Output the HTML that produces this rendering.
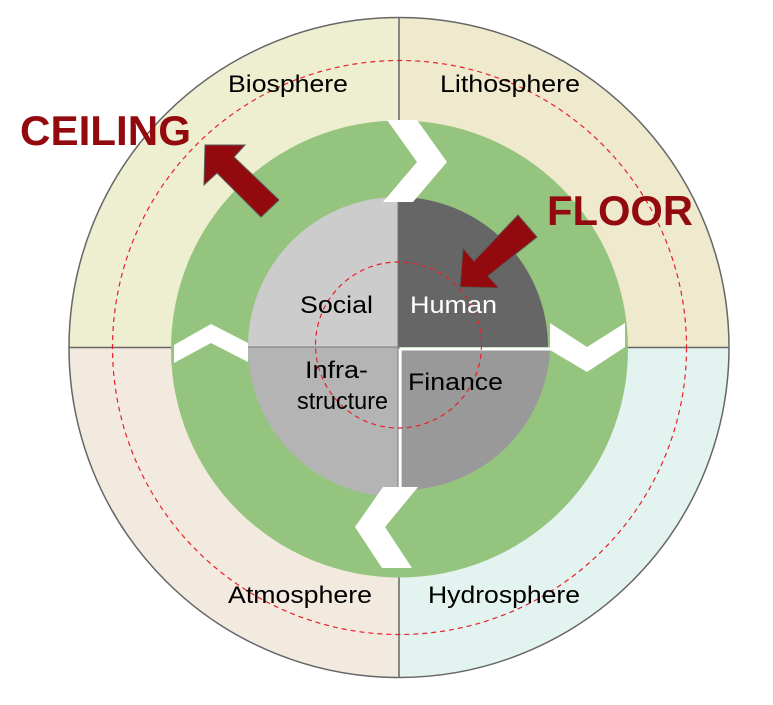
<!DOCTYPE html>
<html><head><meta charset="utf-8"><style>
html,body{margin:0;padding:0;background:#fff;}
svg{display:block;}
text{font-family:"Liberation Sans",Arial,sans-serif;}
</style></head><body>
<svg width="773" height="705" viewBox="0 0 773 705" xmlns="http://www.w3.org/2000/svg">
<path d="M399,347.5 L399,17.5 A330,330 0 0 0 69,347.5 Z" fill="#eeeed1"/>
<path d="M399,347.5 L729,347.5 A330,330 0 0 0 399,17.5 Z" fill="#efeacd"/>
<path d="M399,347.5 L69,347.5 A330,330 0 0 0 399,677.5 Z" fill="#f3eadf"/>
<path d="M399,347.5 L399,677.5 A330,330 0 0 0 729,347.5 Z" fill="#e3f4f0"/>
<line x1="399" y1="17.5" x2="399" y2="677.5" stroke="#666" stroke-width="1.5"/>
<line x1="69" y1="347.5" x2="729" y2="347.5" stroke="#666" stroke-width="1.5"/>
<circle cx="399" cy="347.5" r="330" fill="none" stroke="#666" stroke-width="1.5"/>
<circle cx="399.5" cy="347.5" r="287" fill="none" stroke="#e8202a" stroke-width="1.2" stroke-dasharray="5,4"/>
<circle cx="399.5" cy="349" r="228.5" fill="#95c47f"/>
<path d="M398,347 L398,197 A150,150 0 0 0 248,347 Z" fill="#cccccc"/>
<path d="M398,347 L548,347 A150,150 0 0 0 398,197 Z" fill="#666666"/>
<path d="M398,347 L248,347 A150,150 0 0 0 398,497 Z" fill="#b4b4b4"/>
<path d="M402,350.5 L402,490 A148,148 0 0 0 550,350.5 Z" fill="#999999"/>
<line x1="398" y1="199" x2="398" y2="490" stroke="#777" stroke-width="1"/>
<line x1="248" y1="347" x2="398" y2="347" stroke="#777" stroke-width="1"/>
<line x1="400" y1="349" x2="552" y2="349" stroke="#fff" stroke-width="3"/>
<line x1="400" y1="349" x2="400" y2="492" stroke="#fff" stroke-width="3"/>
<polygon points="387,120 417,120 447,162 413,202 383,202 417,162" fill="#fff"/>
<polygon points="174,345 211,324 248,343 248,362 211,343 174,363" fill="#fff"/>
<polygon points="550,323 587,347 625,323 625,347 587,372 550,350" fill="#fff"/>
<polygon points="383,487 418,487 385,527 412,568 382,568 355,527" fill="#fff"/>
<circle cx="398.5" cy="345" r="83" fill="none" stroke="#e8202a" stroke-width="1.2" stroke-dasharray="5,4"/>
<polygon points="205,145 245,145 234,157 279,200 261,217 217,173 204,185" fill="#930a0e" stroke="#5a5a5a" stroke-width="1"/>
<polygon points="460,287 499,288 488,276 537,237 518,215 474,261 463,248" fill="#930a0e" stroke="#5a5a5a" stroke-width="1"/>
<text x="20" y="145" font-size="42" font-weight="bold" fill="#930a0e" textLength="171" lengthAdjust="spacingAndGlyphs">CEILING</text>
<text x="547" y="225" font-size="42" font-weight="bold" fill="#930a0e" textLength="146" lengthAdjust="spacingAndGlyphs">FLOOR</text>
<g font-size="24" fill="#000">
<text x="228" y="92" textLength="120" lengthAdjust="spacingAndGlyphs">Biosphere</text>
<text x="440" y="92" textLength="140" lengthAdjust="spacingAndGlyphs">Lithosphere</text>
<text x="228" y="603" textLength="144" lengthAdjust="spacingAndGlyphs">Atmosphere</text>
<text x="428" y="603" textLength="152" lengthAdjust="spacingAndGlyphs">Hydrosphere</text>
<text x="300" y="313" textLength="73" lengthAdjust="spacingAndGlyphs">Social</text>
<text x="410" y="313" fill="#fff" textLength="87" lengthAdjust="spacingAndGlyphs">Human</text>
<text x="305" y="378" textLength="63" lengthAdjust="spacingAndGlyphs">Infra-</text>
<text x="297" y="409" textLength="91" lengthAdjust="spacingAndGlyphs">structure</text>
<text x="408" y="390" textLength="95" lengthAdjust="spacingAndGlyphs">Finance</text>
</g>
</svg>
</body></html>
